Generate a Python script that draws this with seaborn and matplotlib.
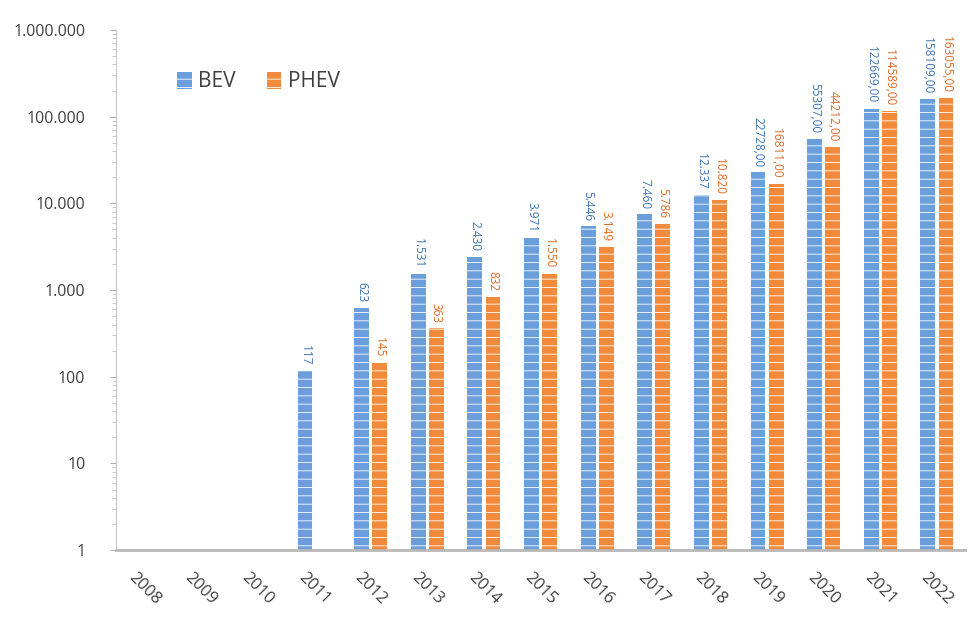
import pandas as pd
import seaborn as sns
import matplotlib.pyplot as plt
from matplotlib.ticker import FuncFormatter, FixedLocator, LogLocator

# %%
years = [str(y) for y in range(2008, 2023)]

bev_years = ["2011", "2012", "2013", "2014", "2015", "2016", "2017",
             "2018", "2019", "2020", "2021", "2022"]
bev_values = [117, 623, 1531, 2430, 3971, 5446, 7460,
              12337, 22728, 55307, 122669, 158109]
bev_labels = ["117", "623", "1.531", "2.430", "3.971", "5.446", "7.460",
              "12.337", "22728,00", "55307,00", "122669,00", "158109,00"]

phev_years = ["2012", "2013", "2014", "2015", "2016", "2017",
              "2018", "2019", "2020", "2021", "2022"]
phev_values = [145, 363, 832, 1550, 3149, 5786,
               10820, 16811, 44212, 114589, 163055]
phev_labels = ["145", "363", "832", "1.550", "3.149", "5.786",
               "10.820", "16811,00", "44212,00", "114589,00", "163055,00"]

y_ticks = [1, 10, 100, 1000, 10000, 100000, 1000000]

# %%
df = pd.concat([
    pd.DataFrame({"year": bev_years, "type": "BEV", "value": bev_values, "label": bev_labels}),
    pd.DataFrame({"year": phev_years, "type": "PHEV", "value": phev_values, "label": phev_labels}),
])

sns.set_style("white")
plt.rcParams["hatch.linewidth"] = 0.6
plt.rcParams["font.family"] = ["Open Sans", "DejaVu Sans"]

palette = {"BEV": "#6a9fdc", "PHEV": "#f28a3c"}
label_colors = {"BEV": "#3d74b4", "PHEV": "#e06a22"}

fig = plt.figure(figsize=(9.74, 6.23), dpi=100)
ax = fig.add_axes([0.119, 0.117, 0.872, 0.835])
ax.set_yscale("log")

sns.barplot(data=df, x="year", y="value", hue="type", order=years,
            hue_order=["BEV", "PHEV"], palette=palette, width=0.64, gap=0.18,
            edgecolor="white", linewidth=0, hatch="--", saturation=1,
            errorbar=None, ax=ax)

ax.set_ylim(1, 1e6)

# value labels, vertical above each bar
for container, kind in zip(ax.containers, ["BEV", "PHEV"]):
    sub = df[df["type"] == kind].set_index("year")
    for patch in container:
        h = patch.get_height()
        if not h or h != h:
            continue
        idx = int(round(patch.get_x() + patch.get_width() / 2))
        yr = years[idx]
        if yr not in sub.index:
            continue
        ax.annotate(sub.loc[yr, "label"], (patch.get_x() + patch.get_width() / 2, h),
                    xytext=(0, 4), textcoords="offset points", rotation=-90,
                    ha="center", va="bottom", fontsize=8.5,
                    color=label_colors[kind], annotation_clip=False)

# axes styling
ax.yaxis.set_major_locator(FixedLocator(y_ticks))
ax.yaxis.set_minor_locator(LogLocator(base=10, subs=range(2, 10), numticks=20))
ax.yaxis.set_major_formatter(FuncFormatter(lambda v, p: f"{int(round(v)):,}".replace(",", ".")))
ax.tick_params(axis="y", which="major", length=4, color="#b0b0b0", labelsize=11.5,
               labelcolor="#404040", pad=18, left=True)
ax.tick_params(axis="y", which="minor", length=3, color="#c0c0c0", left=True)
ax.tick_params(axis="x", length=0, labelsize=12, labelcolor="#404040", pad=14)
for lbl in ax.get_xticklabels():
    lbl.set_rotation(-45)
    lbl.set_ha("center")

sns.despine(ax=ax, top=True, right=True)
ax.spines["left"].set_color("#c8c8c8")
ax.spines["bottom"].set_color("#b8b8b8")
ax.spines["bottom"].set_linewidth(2)

ax.set_xlabel("")
ax.set_ylabel("")

leg = ax.legend(loc="center left", bbox_to_anchor=(0.05, 0.9), ncol=2, frameon=False,
                fontsize=15, handlelength=0.7, handleheight=0.9, handletextpad=0.3,
                columnspacing=1.5, labelcolor="#404040")

fig.savefig("out.png", dpi=100)
